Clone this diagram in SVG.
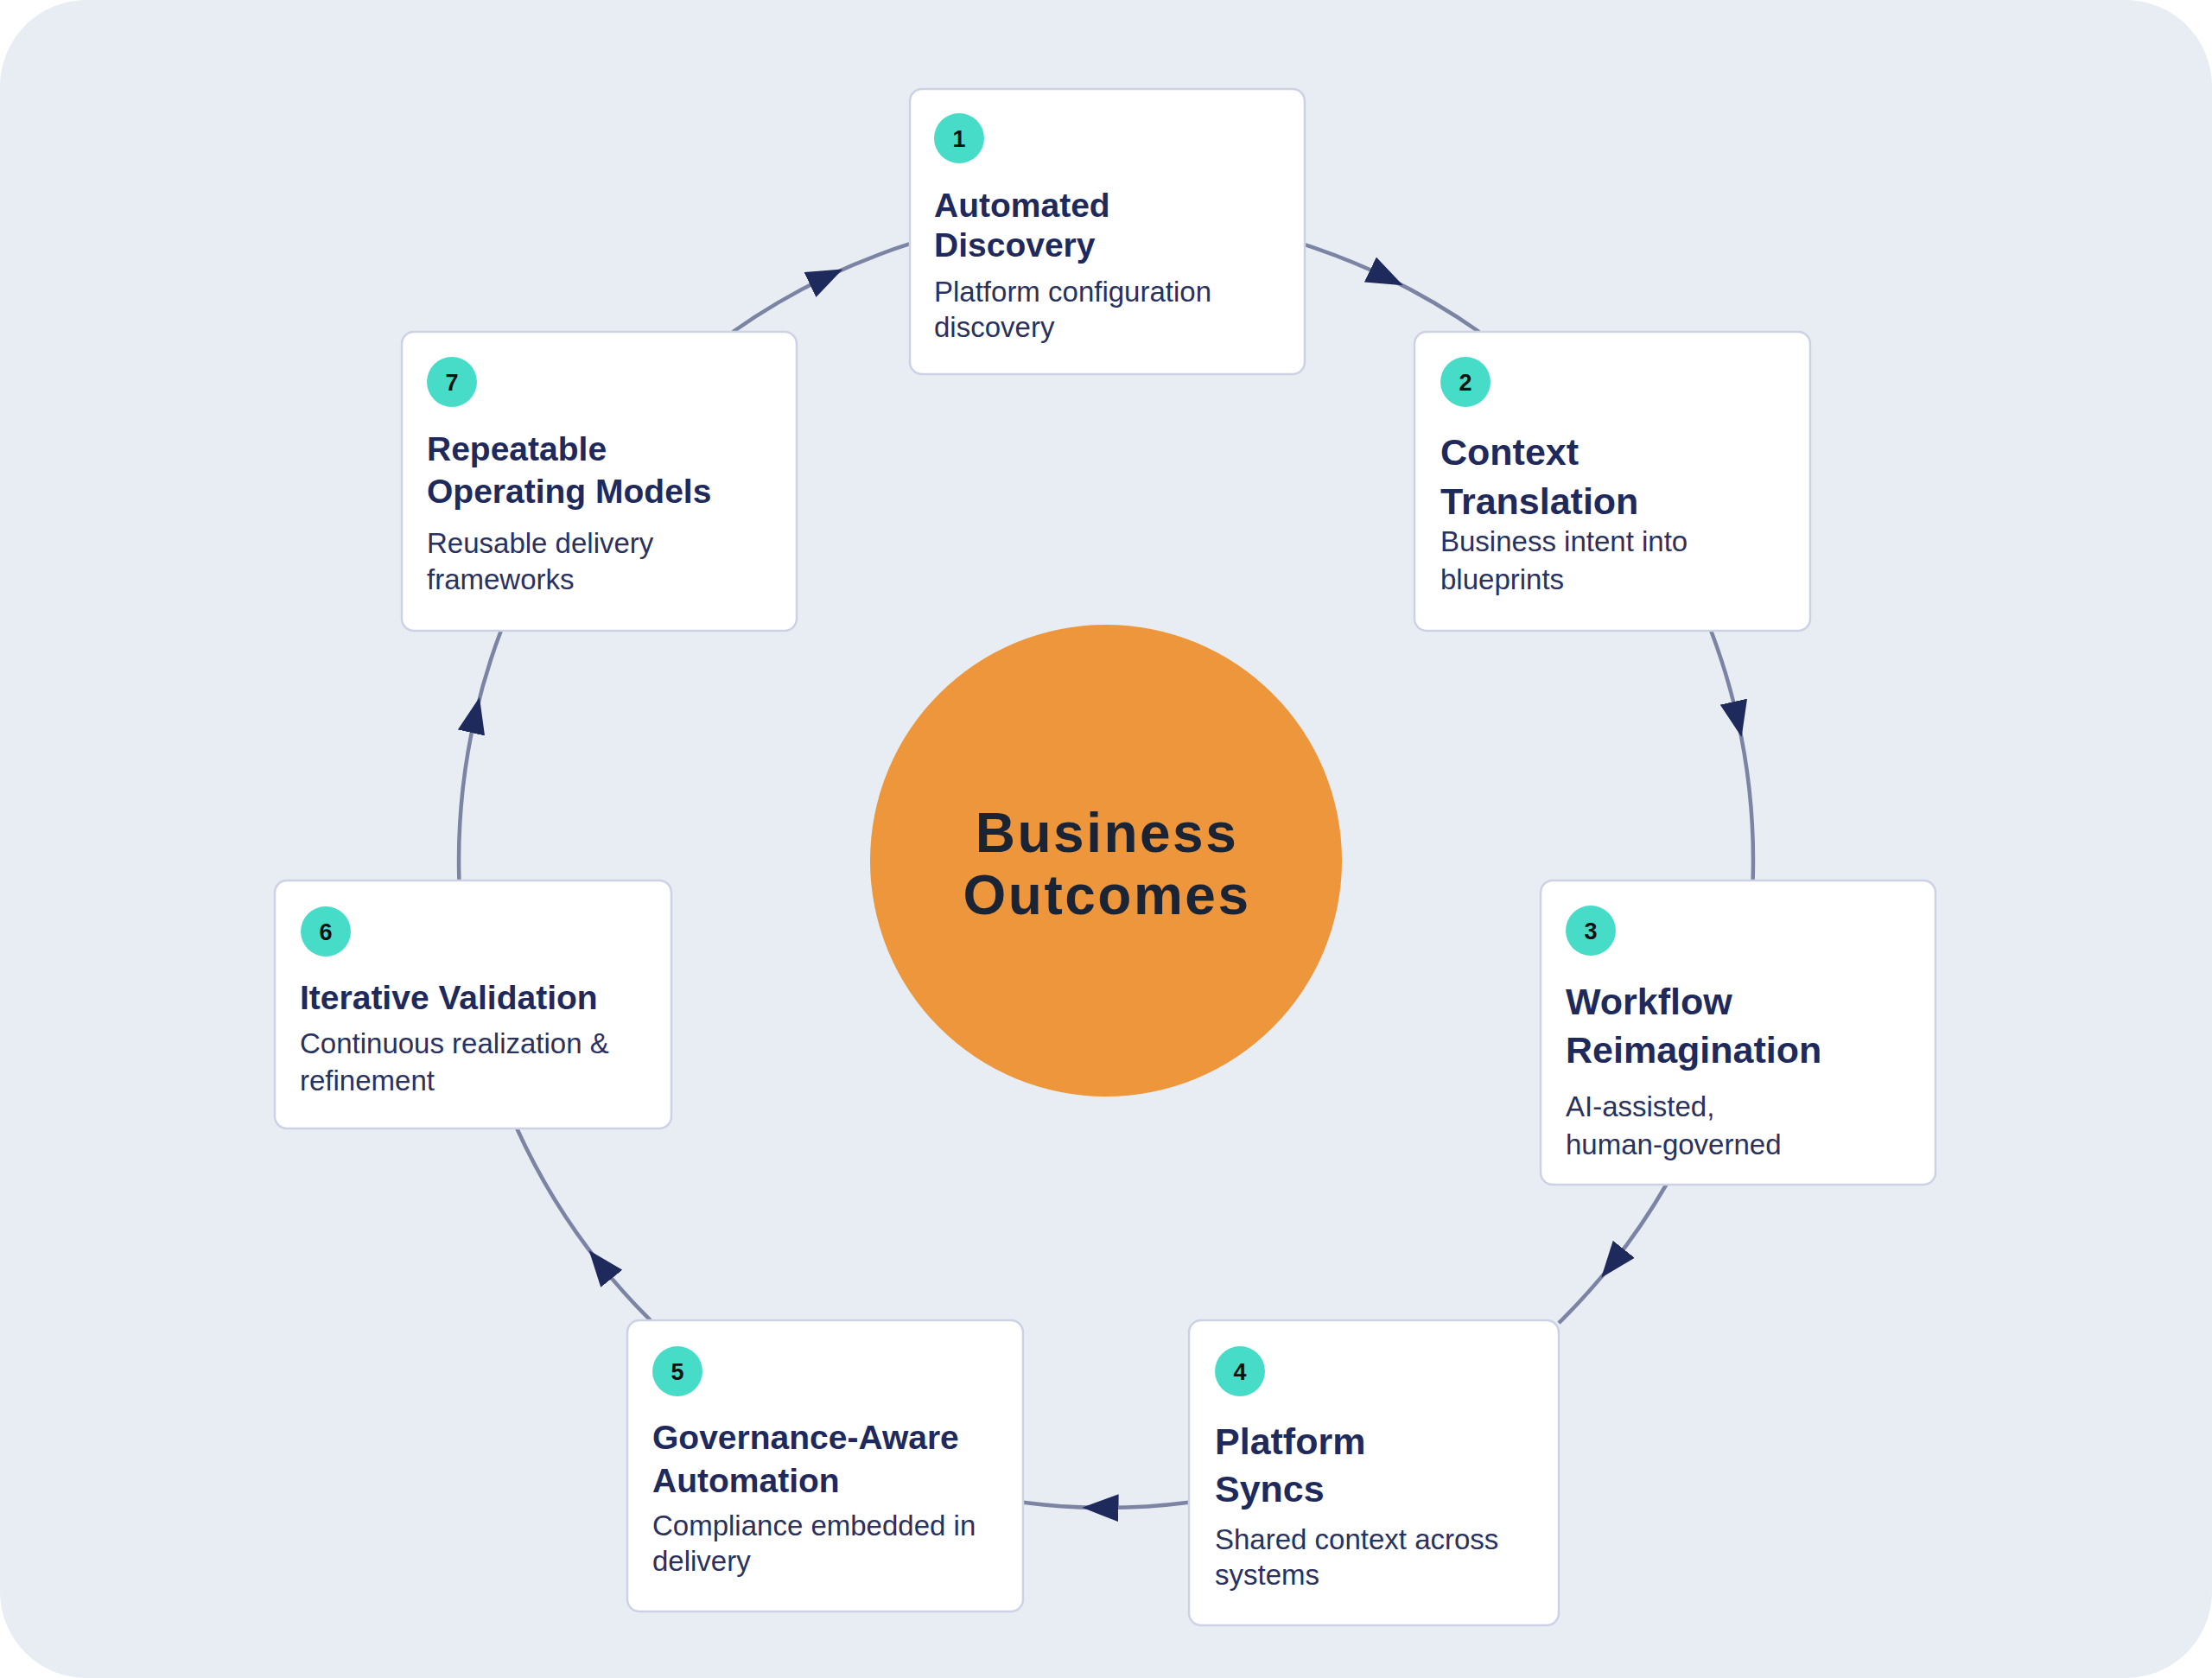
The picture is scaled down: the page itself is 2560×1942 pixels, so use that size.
<svg xmlns="http://www.w3.org/2000/svg" width="2560" height="1942" viewBox="0 0 2560 1942">
<style>
.card{fill:#ffffff;stroke:#cdd1e4;stroke-width:2.5}
.badge{fill:#47dcc8}
.num{font-family:"Liberation Sans",Arial,sans-serif;font-weight:700;font-size:27px;fill:#111111;text-anchor:middle}
.t{font-family:"Liberation Sans",Arial,sans-serif;font-weight:700;fill:#1f2a5c}
.t39{font-size:39px}
.t43{font-size:43px}
.d{font-family:"Liberation Sans",Arial,sans-serif;font-size:33px;fill:#29315e}
.conn{fill:none;stroke:#7b84a3;stroke-width:4.5;marker-mid:url(#arrow)}
.center{font-family:"Liberation Sans",Arial,sans-serif;font-weight:700;font-size:64px;letter-spacing:2.5px;fill:#1b2434;text-anchor:middle}
</style>
<defs>
<marker id="arrow" viewBox="0 0 42 32" refX="21" refY="16" markerWidth="42" markerHeight="32" markerUnits="userSpaceOnUse" orient="auto">
<path d="M0,0 L42,16 L0,32 Z" fill="#1f2a5c"/>
</marker>
</defs>
<rect x="0" y="0" width="2560" height="1942" fill="#ffffff"/>
<rect x="0" y="0" width="2560" height="1942" rx="100" ry="100" fill="#e8edf4"/>

<g id="connectors">
<path class="conn" d="M1510,283.2 A749,749 0 0 1 1604.8,321.1 A749,749 0 0 1 1711.8,384"/>
<path class="conn" d="M1980.2,730 A749,749 0 0 1 2011,832.6 A749,749 0 0 1 2028.6,1019"/>
<path class="conn" d="M1928.4,1371 A749,749 0 0 1 1866.2,1462.2 A749,749 0 0 1 1804,1531.2"/>
<path class="conn" d="M1376,1738.8 A749,749 0 0 1 1273.5,1745 A749,749 0 0 1 1184,1738.8"/>
<path class="conn" d="M752.8,1528 A749,749 0 0 1 694.7,1463.3 A749,749 0 0 1 598.2,1306"/>
<path class="conn" d="M531.4,1019 A749,749 0 0 1 550.2,827.5 A749,749 0 0 1 579.8,730"/>
<path class="conn" d="M848.2,384 A749,749 0 0 1 956.4,320.5 A749,749 0 0 1 1053,282.2"/>
</g>

<g id="center">
<circle cx="1280" cy="996" r="273" fill="#ee963b"/>
<text class="center" x="1281" y="986">Business</text>
<text class="center" x="1281" y="1058">Outcomes</text>
</g>

<g id="node1">
<rect class="card" x="1053" y="103" width="457" height="330" rx="14"/>
<circle class="badge" cx="1110" cy="160" r="29"/>
<text class="num" x="1110" y="170">1</text>
<text class="t t39" x="1081" y="251">Automated</text>
<text class="t t39" x="1081" y="297">Discovery</text>
<text class="d" x="1081" y="349">Platform configuration</text>
<text class="d" x="1081" y="390">discovery</text>
</g>

<g id="node2">
<rect class="card" x="1637" y="384" width="458" height="346" rx="14"/>
<circle class="badge" cx="1696" cy="442" r="29"/>
<text class="num" x="1696" y="452">2</text>
<text class="t t43" x="1667" y="538">Context</text>
<text class="t t43" x="1667" y="595">Translation</text>
<text class="d" x="1667" y="638">Business intent into</text>
<text class="d" x="1667" y="682">blueprints</text>
</g>

<g id="node3">
<rect class="card" x="1783" y="1019" width="457" height="352" rx="14"/>
<circle class="badge" cx="1841" cy="1077" r="29"/>
<text class="num" x="1841" y="1087">3</text>
<text class="t t43" x="1812" y="1174">Workflow</text>
<text class="t t43" x="1812" y="1230">Reimagination</text>
<text class="d" x="1812" y="1292">AI-assisted,</text>
<text class="d" x="1812" y="1336">human-governed</text>
</g>

<g id="node4">
<rect class="card" x="1376" y="1528" width="428" height="353" rx="14"/>
<circle class="badge" cx="1435" cy="1587" r="29"/>
<text class="num" x="1435" y="1597">4</text>
<text class="t t43" x="1406" y="1683">Platform</text>
<text class="t t43" x="1406" y="1738">Syncs</text>
<text class="d" x="1406" y="1793">Shared context across</text>
<text class="d" x="1406" y="1834">systems</text>
</g>

<g id="node5">
<rect class="card" x="726" y="1528" width="458" height="337" rx="14"/>
<circle class="badge" cx="784" cy="1587" r="29"/>
<text class="num" x="784" y="1597">5</text>
<text class="t t39" x="755" y="1677">Governance-Aware</text>
<text class="t t39" x="755" y="1727">Automation</text>
<text class="d" x="755" y="1777">Compliance embedded in</text>
<text class="d" x="755" y="1818">delivery</text>
</g>

<g id="node6">
<rect class="card" x="318" y="1019" width="459" height="287" rx="14"/>
<circle class="badge" cx="377" cy="1078" r="29"/>
<text class="num" x="377" y="1088">6</text>
<text class="t t39" x="347" y="1168">Iterative Validation</text>
<text class="d" x="347" y="1219">Continuous realization &amp;</text>
<text class="d" x="347" y="1262">refinement</text>
</g>

<g id="node7">
<rect class="card" x="465" y="384" width="457" height="346" rx="14"/>
<circle class="badge" cx="523" cy="442" r="29"/>
<text class="num" x="523" y="452">7</text>
<text class="t t39" x="494" y="533">Repeatable</text>
<text class="t t39" x="494" y="582">Operating Models</text>
<text class="d" x="494" y="640">Reusable delivery</text>
<text class="d" x="494" y="682">frameworks</text>
</g>
</svg>
